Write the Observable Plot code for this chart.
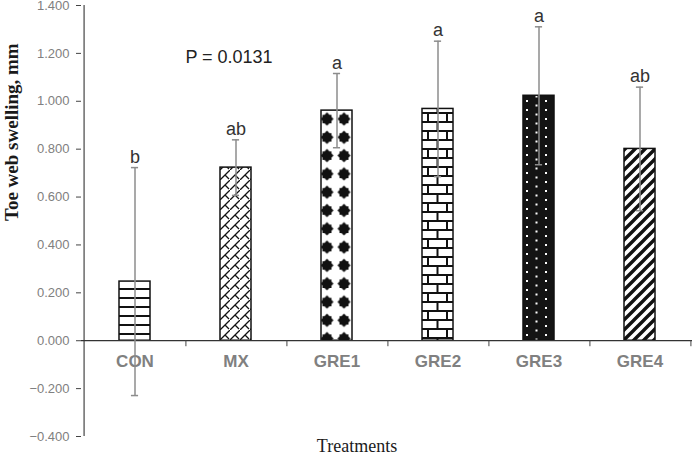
<!DOCTYPE html>
<html>
<head>
<meta charset="utf-8">
<script src="https://cdn.jsdelivr.net/npm/d3@7"></script>
<script src="https://cdn.jsdelivr.net/npm/@observablehq/plot@0.6"></script>
<style>
  html, body { margin: 0; padding: 0; background: #fff; }
</style>
</head>
<body>
<div id="chart"></div>
<script>
// ---- data ----
const treatments = ["CON", "MX", "GRE1", "GRE2", "GRE3", "GRE4"];
const means      = [0.247, 0.723, 0.961, 0.968, 1.023, 0.801];
const stdErrors  = [0.476, 0.116, 0.155, 0.283, 0.288, 0.258];
const sigLetters = ["b", "ab", "a", "a", "a", "ab"];
const yTicks     = [-0.4, -0.2, 0, 0.2, 0.4, 0.6, 0.8, 1.0, 1.2, 1.4];
const pLabel     = "P = 0.0131";
const yTitle     = "Toe web swelling, mm";
const xTitle     = "Treatments";

const data = treatments.map((t, i) => ({t, m: means[i], se: stdErrors[i], sig: sigLetters[i]}));

const W = 692, H = 455, mL = 81, mR = 0, mT = 5, mB = 19;
const bw = (W - mL - mR) / treatments.length;
const barInset = 35;

const plot = Plot.plot({
  width: W, height: H,
  marginLeft: mL, marginRight: mR, marginTop: mT, marginBottom: mB,
  style: {fontFamily: "'Liberation Sans', Arial, sans-serif", background: "#fff"},
  x: {domain: treatments, padding: 0, axis: null},
  y: {domain: [-0.4, 1.4], axis: null},
  color: {type: "identity"},
  marks: [
    // bars with pattern fills
    Plot.barY(data, {x: "t", y: "m", fill: d => `url(#pat-${d.t})`, stroke: "#111", strokeWidth: 1.5,
      insetLeft: barInset, insetRight: barInset}),
    // y axis
    Plot.axisY({ticks: yTicks, tickFormat: d3.format(".3f"), tickSize: 5, tickPadding: 7,
      fontSize: 13, stroke: "#444", fill: "#808080", label: null}),
    Plot.ruleX([treatments[0]], {dx: -bw / 2, y1: -0.4, y2: 1.4, stroke: "#444", strokeWidth: 1.2}),
    // x axis line at zero + ticks between categories
    Plot.ruleY([0], {stroke: "#333", strokeWidth: 1.2}),
    Plot.ruleX(treatments, {x: d => d, dx: bw / 2, y1: 0, y2: -0.025, stroke: "#444"}),
    Plot.text(treatments, {x: d => d, y: 0, dy: 21, text: d => d, fontSize: 17, fontWeight: "bold", fill: "#808080"}),
    // error bars
    Plot.ruleX(data, {x: "t", y1: d => d.m - d.se, y2: d => d.m + d.se, stroke: "#8c8c8c", strokeWidth: 1.5}),
    Plot.tickY(data, {x: "t", y: d => d.m + d.se, stroke: "#8c8c8c", strokeWidth: 1.5, insetLeft: (bw - 8) / 2, insetRight: (bw - 8) / 2}),
    Plot.tickY(data, {x: "t", y: d => d.m - d.se, stroke: "#8c8c8c", strokeWidth: 1.5, insetLeft: (bw - 8) / 2, insetRight: (bw - 8) / 2}),
    // significance letters
    Plot.text(data, {x: "t", y: d => d.m + d.se, text: "sig", lineAnchor: "bottom", dy: -5, fontSize: 18, fill: "#333"}),
    // P value annotation
    Plot.text([pLabel], {x: () => "MX", y: () => 1.183, text: d => d, dx: -7, fontSize: 18, fill: "#222"}),
    // axis titles
    Plot.text([yTitle], {frameAnchor: "left", text: d => d, rotate: -90, dx: 11 - mL, fontSize: 19, fontWeight: "bold",
      fontFamily: "'Liberation Serif', 'Times New Roman', serif", fill: "#1a1a1a"}),
    Plot.text([xTitle], {frameAnchor: "bottom", text: d => d, lineAnchor: "bottom", dy: 15, dx: -30, fontSize: 18,
      fontFamily: "'Liberation Serif', 'Times New Roman', serif", fill: "#1a1a1a"})
  ]
});

// ---- pattern definitions (style only), aligned to each bar via the x scale ----
const xs = plot.scale("x");
const left = t => xs.apply(t) + barInset;
const svg = d3.select(plot);
const defs = svg.insert("defs", ":first-child");
function pat(id, w, h, x0, y0, bg) {
  const p = defs.append("pattern").attr("id", id).attr("patternUnits", "userSpaceOnUse")
    .attr("width", w).attr("height", h).attr("x", x0).attr("y", y0);
  p.append("rect").attr("width", w).attr("height", h).attr("fill", bg);
  return p;
}
// CON: horizontal lines
{
  const p = pat("pat-CON", 10, 9, 0, 281, "#fff");
  p.append("rect").attr("x", 0).attr("y", 7).attr("width", 10).attr("height", 2).attr("fill", "#111");
}
// MX: diagonal brick
{
  const p = pat("pat-MX", 10, 10, left("MX"), 0, "#fff");
  p.append("path").attr("d", "M-1,11 L11,-1 M5,5 L9,9").attr("stroke", "#111").attr("stroke-width", 1.3).attr("fill", "none");
}
// GRE1: notched diamonds, two columns
{
  const p = pat("pat-GRE1", 17, 18.3, left("GRE1") + 6 - 8.5, 0, "#fff");
  p.append("path").attr("d", "M8.5,2.5 L11,5 L13,5 L13,7 L15,9.2 L13,11.4 L13,13.4 L11,13.4 L8.5,15.9 L6,13.4 L4,13.4 L4,11.4 L2,9.2 L4,7 L4,5 L6,5 Z")
    .attr("fill", "#111");
}
// GRE2: horizontal brick
{
  const p = pat("pat-GRE2", 19, 18, left("GRE2") + 5, 112, "#fff");
  p.append("rect").attr("x", 0).attr("y", 0).attr("width", 19).attr("height", 2).attr("fill", "#111");
  p.append("rect").attr("x", 0).attr("y", 9).attr("width", 19).attr("height", 2).attr("fill", "#111");
  p.append("rect").attr("x", 0).attr("y", 0).attr("width", 2).attr("height", 9).attr("fill", "#111");
  p.append("rect").attr("x", 9.5).attr("y", 9).attr("width", 2).attr("height", 9).attr("fill", "#111");
}
// GRE3: black with white dotted grid
{
  const p = pat("pat-GRE3", 19, 9, left("GRE3") + 3, 0, "#141414");
  p.append("rect").attr("x", 0).attr("y", 1).attr("width", 2).attr("height", 2).attr("fill", "#fff");
  p.append("rect").attr("x", 9.5).attr("y", 5.5).attr("width", 2).attr("height", 2).attr("fill", "#fff");
}
// GRE4: wide upward diagonal stripes
{
  const p = pat("pat-GRE4", 10, 10, left("GRE4"), 0, "#fff");
  p.append("path").attr("d", "M-2,12 L12,-2 M-7,7 L7,-7 M3,17 L17,3").attr("stroke", "#111").attr("stroke-width", 3.4).attr("fill", "none");
}

document.getElementById("chart").appendChild(plot);
</script>
</body>
</html>
